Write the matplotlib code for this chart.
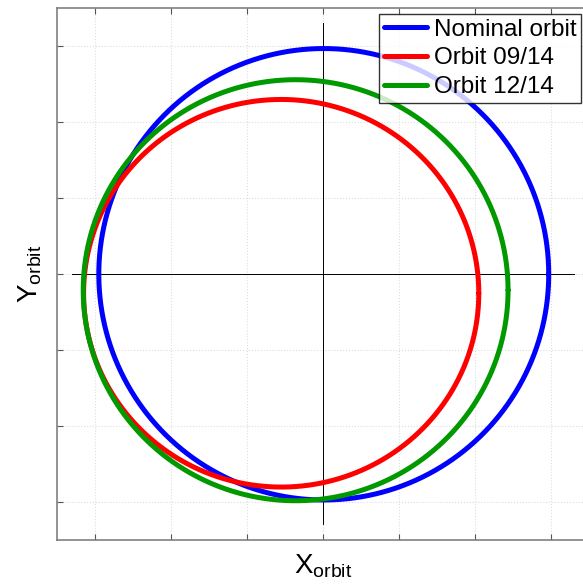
import numpy as np
import matplotlib
matplotlib.use("Agg")
import matplotlib.pyplot as plt

plt.rcParams['font.family'] = ['Liberation Sans', 'DejaVu Sans']
plt.rcParams['mathtext.fontset'] = 'custom'
plt.rcParams['mathtext.rm'] = 'Liberation Sans'

# Orbits drawn as ellipses: centre (x, y) and half-axes (rx, ry), tick units
names = ['Nominal orbit', 'Orbit 09/14', 'Orbit 12/14']
colors = ['#0000ff', '#ff0000', '#009900']
cx = [0.01, -0.55, -0.36]
cy = [-0.01, -0.26, -0.22]
rx = [2.96, 2.60, 2.795]
ry = [2.97, 2.55, 2.77]
ticks = [-3, -2, -1, 0, 1, 2, 3]

fig = plt.figure(figsize=(5.83, 5.86), dpi=100)
ax = fig.add_axes([57 / 583, 46.5 / 586, 532 / 583, 532 / 586])

t = np.linspace(0, 2 * np.pi, 400)
for i in range(3):
    ax.plot(cx[i] + rx[i] * np.cos(t), cy[i] + ry[i] * np.sin(t),
            color=colors[i], lw=3.6, label=names[i], zorder=3,
            solid_capstyle='round', solid_joinstyle='round')

# crosshair through the origin
ax.plot([-3.3, 3.3], [0, 0], color='k', lw=0.7, zorder=2)
ax.plot([0, 0], [-3.3, 3.3], color='k', lw=0.7, zorder=2)

ax.set_xlim(-3.5, 3.5)
ax.set_ylim(-3.5, 3.5)
ax.set_xticks(ticks)
ax.set_yticks(ticks)
ax.set_xticklabels([])
ax.set_yticklabels([])
ax.tick_params(direction='in', length=4, color='#555555', top=True, right=True)
ax.grid(True, color='#dddddd', linestyle=':', lw=0.8)
for s in ax.spines.values():
    s.set_color('#808080')
    s.set_linewidth(1.2)

ax.set_xlabel(r'$\mathrm{X_{orbit}}$', fontsize=20, labelpad=6)
ax.set_ylabel(r'$\mathrm{Y_{orbit}}$', fontsize=20, labelpad=6)

leg = ax.legend(loc='upper right', bbox_to_anchor=(581 / 583, 1 - 14 / 586),
                bbox_transform=fig.transFigure, fontsize=17.5, frameon=True,
                fancybox=False, edgecolor='k', handlelength=1.8,
                handletextpad=0.25, labelspacing=0.27, borderpad=0.2,
                borderaxespad=0)
leg.get_frame().set_linewidth(1.0)

plt.savefig('out.png', dpi=100)
